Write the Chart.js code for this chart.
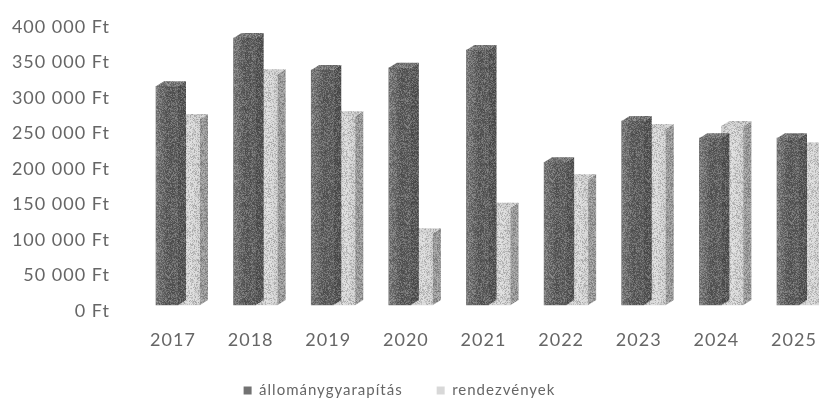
<!DOCTYPE html>
<html>
<head>
<meta charset="utf-8">
<script src="https://cdn.jsdelivr.net/npm/chart.js@4.4.0/dist/chart.umd.min.js"></script>
<style>
  html, body { margin: 0; padding: 0; background: #ffffff; overflow: hidden; }
  #wrap { width: 819px; height: 409px; }
</style>
</head>
<body>
<div id="wrap"><canvas id="c" width="819" height="409"></canvas></div>
<script>
// Yearly spending (Ft)
const years = ['2017', '2018', '2019', '2020', '2021', '2022', '2023', '2024', '2025'];
const acquisitions = [308000, 376000, 331000, 334000, 359000, 201000, 259000, 235000, 235000];
const events = [262000, 325000, 266000, 101000, 137000, 177000, 248000, 252000, 222000];
const seriesNames = ['állománygyarapítás', 'rendezvények'];
const yTickValues = [0, 50000, 100000, 150000, 200000, 250000, 300000, 350000, 400000];
const yTickLabels = ['0 Ft', '50 000 Ft', '100 000 Ft', '150 000 Ft', '200 000 Ft',
                     '250 000 Ft', '300 000 Ft', '350 000 Ft', '400 000 Ft'];

// depth of the extruded bar faces, in pixels
const DEPTH_X = 8;
const DEPTH_Y = 5;

const SHADES = [
  { base: '#727272', front: ['#7e7e7e', '#5c5c5c', '#626262'], side: '#555555', top: '#767676' },
  { base: '#d8d8d8', front: ['#cacaca', '#dddddd', '#d0d0d0'], side: '#9c9c9c', top: '#d0d0d0' }
];

// grainy print texture
function makeGrain() {
  const size = 96;
  const c = document.createElement('canvas');
  c.width = size; c.height = size;
  const g = c.getContext('2d');
  const img = g.createImageData(size, size);
  let s = 1234567;
  const rnd = () => { s = (s * 1103515245 + 12345) & 0x7fffffff; return s / 0x7fffffff; };
  for (let i = 0; i < size * size; i++) {
    const v = rnd() < 0.5 ? 0 : 255;
    img.data[i * 4] = v; img.data[i * 4 + 1] = v; img.data[i * 4 + 2] = v;
    img.data[i * 4 + 3] = Math.floor(rnd() * 60);
  }
  g.putImageData(img, 0, 0);
  return c;
}
const grainCanvas = makeGrain();

const spacing = {
  id: 'spacing',
  beforeUpdate(chart) { chart.ctx.letterSpacing = '1px'; },
  beforeLayout(chart) { chart.ctx.letterSpacing = '1px'; },
  beforeDraw(chart) { chart.ctx.letterSpacing = '1px'; }
};

const bar3d = {
  id: 'bar3d',
  afterDatasetDraw(chart, args) {
    const ctx = chart.ctx;
    const shade = SHADES[args.index];
    const pattern = ctx.createPattern(grainCanvas, 'repeat');
    ctx.save();
    args.meta.data.forEach((el) => {
      const { x, y, base, width } = el.getProps(['x', 'y', 'base', 'width'], true);
      const l = x - width / 2;
      const r = x + width / 2;
      // front face shading
      const g = ctx.createLinearGradient(l, 0, r, 0);
      g.addColorStop(0, shade.front[0]);
      g.addColorStop(0.55, shade.front[1]);
      g.addColorStop(1, shade.front[2]);
      ctx.fillStyle = g;
      ctx.fillRect(l, y, width, base - y);
      ctx.fillStyle = pattern;
      ctx.fillRect(l, y, width, base - y);
      // right side face
      ctx.beginPath();
      ctx.moveTo(r, y);
      ctx.lineTo(r + DEPTH_X, y - DEPTH_Y);
      ctx.lineTo(r + DEPTH_X, base - DEPTH_Y);
      ctx.lineTo(r, base);
      ctx.closePath();
      ctx.fillStyle = shade.side;
      ctx.fill();
      ctx.fillStyle = pattern;
      ctx.fill();
      // top face
      ctx.beginPath();
      ctx.moveTo(l, y);
      ctx.lineTo(l + DEPTH_X, y - DEPTH_Y);
      ctx.lineTo(r + DEPTH_X, y - DEPTH_Y);
      ctx.lineTo(r, y);
      ctx.closePath();
      ctx.fillStyle = shade.top;
      ctx.fill();
      ctx.fillStyle = pattern;
      ctx.fill();
    });
    ctx.restore();
  }
};

const TEXT = '#666666';

new Chart(document.getElementById('c'), {
  type: 'bar',
  data: {
    labels: years,
    datasets: [
      { label: seriesNames[0], data: acquisitions, backgroundColor: SHADES[0].base, clip: false },
      { label: seriesNames[1], data: events, backgroundColor: SHADES[1].base, clip: false }
    ]
  },
  options: {
    responsive: false,
    animation: false,
    devicePixelRatio: 1,
    barThickness: 22,
    layout: { padding: { left: 0, right: 20, top: 21, bottom: 1 } },
    plugins: {
      tooltip: { enabled: false },
      legend: {
        position: 'bottom',
        labels: {
          boxWidth: 8,
          boxHeight: 8,
          padding: 34,
          color: TEXT,
          font: { family: 'Lato', size: 15 }
        }
      }
    },
    scales: {
      x: {
        offset: false,
        grid: { display: false, drawTicks: false },
        border: { display: false },
        ticks: {
          color: TEXT,
          font: { family: 'Lato', size: 18 },
          padding: 24,
          labelOffset: -5,
          maxRotation: 0,
          autoSkip: false
        },
        afterFit(scale) {
          scale.height = 44;
          scale.paddingLeft = 0;
          scale.paddingRight = 0;
        }
      },
      y: {
        min: 0,
        max: 400000,
        afterBuildTicks(scale) { scale.ticks = yTickValues.map(v => ({ value: v })); },
        grid: { display: false, drawTicks: false },
        border: { display: false },
        ticks: {
          color: TEXT,
          font: { family: 'Lato', size: 18 },
          padding: 68,
          labelOffset: 6,
          callback(value, index) { return yTickLabels[index]; }
        },
        afterFit(scale) {
          scale.width = 178;
          scale.paddingTop = 0;
          scale.paddingBottom = 0;
        }
      }
    }
  },
  plugins: [spacing, bar3d]
});
</script>
</body>
</html>
